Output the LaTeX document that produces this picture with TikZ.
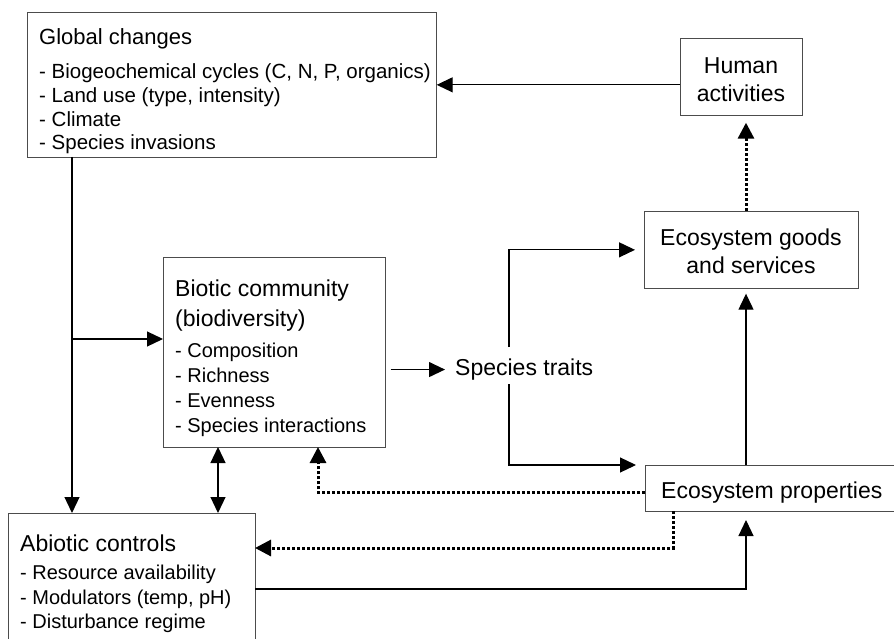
\documentclass[tikz,border=0pt]{standalone}
\usepackage{fontspec}
\setmainfont{Liberation Sans}
\usetikzlibrary{arrows.meta}
\begin{document}
\begin{tikzpicture}[x=1pt,y=-1pt,
  box/.style={draw=black!70, line width=0.7pt, anchor=north west, inner sep=0pt},
  hd/.style={anchor=base west, inner sep=0pt, font=\fontsize{23}{28}\selectfont},
  hdc/.style={anchor=base, inner sep=0pt, font=\fontsize{23}{28}\selectfont},
  li/.style={anchor=base west, inner sep=0pt, font=\fontsize{20}{24}\selectfont},
  tip/.style={Triangle[length=16pt,width=15pt]},
  con/.style={line width=1.2pt, -{Triangle[length=16pt,width=15pt]}},
  dcon/.style={line width=3pt, dash pattern=on 3pt off 2pt, -{Triangle[length=16pt,width=16pt]}}]
\useasboundingbox (0,0) rectangle (894,639);
% boxes
\node[box, minimum width=409pt, minimum height=145pt] (gc) at (27,12) {};
\node[box, minimum width=122pt, minimum height=77pt] (ha) at (680,38) {};
\node[box, minimum width=214pt, minimum height=77pt] (eg) at (644,211) {};
\node[box, minimum width=222pt, minimum height=190pt] (bc) at (163,257) {};
\node[box, minimum width=250pt, minimum height=46pt] (ep) at (645,465) {};
\node[box, minimum width=247pt, minimum height=132pt] (ab) at (8,513) {};
% texts
\node[hd, font=\fontsize{22}{26}\selectfont] (gct) at (39,45) {Global changes};
\node[li, font=\fontsize{20.5}{24}\selectfont] (gc1) at (39,79) {- Biogeochemical cycles (C, N, P, organics)};
\node[li, font=\fontsize{20.5}{24}\selectfont] (gc2) at (39,102.7) {- Land use (type, intensity)};
\node[li, font=\fontsize{20.5}{24}\selectfont] (gc3) at (39,126.4) {- Climate};
\node[li, font=\fontsize{20.5}{24}\selectfont] (gc4) at (39,150) {- Species invasions};
\node[hdc] (hat1) at (741,73.5) {Human};
\node[hdc] (hat2) at (741,101.5) {activities};
\node[hdc] (egt1) at (751,245.5) {Ecosystem goods};
\node[hdc] (egt2) at (751,273.5) {and services};
\node[hd] (bct1) at (175,296.5) {Biotic community};
\node[hd] (bct2) at (175,326.5) {(biodiversity)};
\node[li] (bc1) at (175,357) {- Composition};
\node[li] (bc2) at (175,382) {- Richness};
\node[li] (bc3) at (175,407) {- Evenness};
\node[li] (bc4) at (175,432) {- Species interactions};
\node[hd] (st) at (455,375.5) {Species traits};
\node[hd] (ept) at (661,498.5) {Ecosystem properties};
\node[hd] (abt) at (20,551.5) {Abiotic controls};
\node[li] (ab1) at (20,579) {- Resource availability};
\node[li] (ab2) at (20,604) {- Modulators (temp, pH)};
\node[li] (ab3) at (20,628) {- Disturbance regime};
% connector end points on box edges
\coordinate (gcout) at (72,157);
\coordinate (jb) at (72,339);
\coordinate (bcab) at (218,447);
\coordinate (tu) at (509,347);
\coordinate (td) at (509,384);
\coordinate (bcin) at (318,447);
\coordinate (epo) at (673,511);
\coordinate (abin) at (255,548);
\coordinate (abo) at (255,589);
\coordinate (epb) at (746,511);
\coordinate (epn) at (746,465);
\coordinate (egn) at (746,211);
% connectors
\draw[con] (ha.west |- gc.east) -- (gc.east);
\draw[dcon, shorten >=7pt] (egn) -- (egn |- ha.south);
\draw[con] (gcout) -- (gcout |- ab.north);
\draw[con] (jb) -- (jb -| bc.west);
\draw[line width=1.2pt, {Triangle[length=16pt,width=15pt]}-{Triangle[length=16pt,width=15pt]}] (bcab) -- (bcab |- ab.north);
\draw[con, shorten <=5pt, shorten >=10pt] (bc.east |- st.west) -- (st.west);
\draw[con, shorten >=9pt] (tu) |- (eg.west);
\draw[con, shorten >=9pt] (td) |- (ep.north west);
\draw[con, shorten >=5pt] (epn) -- (epn |- eg.south);
\draw[dcon] ([yshift=-4pt]ep.west) -| (bcin);
\draw[dcon] (epo) |- (abin);
\draw[con, shorten >=9pt] (abo) -| (epb);
\end{tikzpicture}
\end{document}
